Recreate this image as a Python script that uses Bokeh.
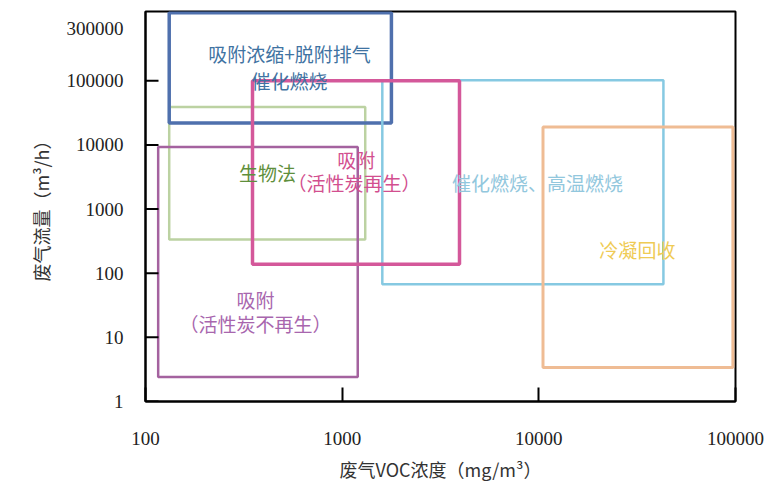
from bokeh.plotting import figure
from bokeh.models import Range1d, FixedTicker, ColumnDataSource, PrintfTickFormatter
from bokeh.core.properties import value
from bokeh.embed import file_html
from bokeh.resources import INLINE

# Boxes: VOC concentration range (mg/m3) x flow range (m3/h)
box_names = ["生物法", "吸附（活性炭不再生）", "吸附浓缩+脱附排气催化燃烧",
             "催化燃烧、高温燃烧", "吸附（活性炭再生）", "冷凝回收"]
conc_lo = [132, 116, 132, 1600, 350, 10500]
conc_hi = [1310, 1200, 1780, 43000, 3950, 97000]
flow_lo = [335, 2.4, 22000, 67, 138, 3.4]
flow_hi = [39000, 9300, 1150000, 102000, 100000, 19000]
box_colors = ["#bcd2a2", "#a4629f", "#4f70ad", "#86c9e2", "#d4589a", "#efbc94"]
box_widths = [2.5, 2.5, 3.5, 2.5, 3.5, 3]

# Text labels inside the chart
label_text = ["吸附浓缩+脱附排气", "催化燃烧", "生物法", "吸附", "（活性炭再生）",
              "催化燃烧、高温燃烧", "冷凝回收", "吸附", "（活性炭不再生）"]
label_x = [540, 540, 417, 1180, 1150, 9840, 31700, 362, 362]
label_y = [268000, 102000, 3680, 5850, 2570, 2570, 235, 39.5, 16.2]
label_colors = ["#3f73a2", "#3f73a2", "#5f8f3c", "#d24f8f", "#d24f8f",
                "#92c7dd", "#efcb55", "#a866ae", "#a866ae"]

x_ticks = [100, 1000, 10000, 100000]
y_ticks = [1, 10, 100, 1000, 10000, 100000]
y_top_tick = 650000          # where the top-of-axis label sits
y_top_label = "300000"

p = figure(width=770, height=484, x_axis_type="log", y_axis_type="log",
           x_range=Range1d(100, 100000), y_range=Range1d(1, 10 ** 6.08),
           output_backend="svg", toolbar_location=None,
           min_border_left=145, min_border_right=35, min_border_top=11, min_border_bottom=81)

p.grid.visible = False
p.outline_line_color = "black"
p.outline_line_width = 2
p.background_fill_color = "white"
p.border_fill_color = "white"

box_src = ColumnDataSource(dict(left=conc_lo, right=conc_hi, bottom=flow_lo, top=flow_hi,
                                color=box_colors, w=box_widths))
p.quad(left="left", right="right", bottom="bottom", top="top", source=box_src,
       fill_color=None, line_color="color", line_width="w")

lab_src = ColumnDataSource(dict(x=label_x, y=label_y, t=label_text, c=label_colors))
p.text(x="x", y="y", text="t", source=lab_src, text_color="c",
       text_font=value("Noto Sans CJK SC"), text_font_size="19px",
       text_align="center", text_baseline="middle")

# inward tick marks on the y axis (only at the decade ticks)
p.ray(x=[x_ticks[0]] * len(y_ticks), y=y_ticks, length=13, length_units="screen",
      angle=0, line_color="black", line_width=2)

tick_font = "Liberation Serif"
for ax in (p.xaxis[0], p.yaxis[0]):
    ax.axis_line_color = "black"
    ax.axis_line_width = 2
    ax.major_tick_line_color = "black"
    ax.major_tick_line_width = 2
    ax.major_tick_out = 0
    ax.minor_tick_line_color = None
    ax.major_label_text_font = tick_font
    ax.major_label_text_font_size = "19px"
    ax.major_label_text_color = "#222222"
    ax.formatter = PrintfTickFormatter(format="%d")
    ax.axis_label_text_font = "Noto Sans CJK SC"
    ax.axis_label_text_font_style = "normal"
    ax.axis_label_text_font_size = "18px"
    ax.axis_label_text_color = "#333333"

p.xaxis[0].ticker = FixedTicker(ticks=x_ticks)
p.yaxis[0].ticker = FixedTicker(ticks=y_ticks + [y_top_tick])
p.yaxis[0].major_label_overrides = {y_top_tick: y_top_label}
p.xaxis[0].major_tick_in = 14
p.yaxis[0].major_tick_in = 0
p.yaxis[0].major_tick_line_color = None
p.xaxis[0].major_label_standoff = 30
p.yaxis[0].major_label_standoff = 22
p.xaxis[0].axis_label = "废气VOC浓度（mg/m³）"
p.yaxis[0].axis_label = "废气流量（m³/h）"
p.xaxis[0].axis_label_standoff = 8
p.yaxis[0].axis_label_standoff = 10

open("out.html", "w").write(file_html(p, INLINE))
